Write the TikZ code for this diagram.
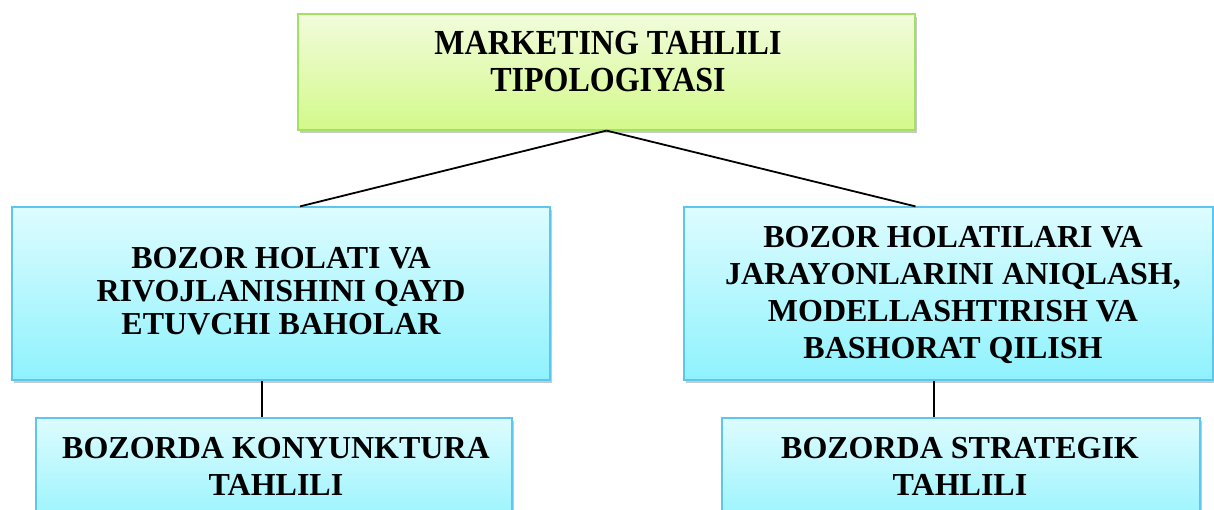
\documentclass[tikz,border=0pt]{standalone}
\usepackage{fontspec}
\setmainfont{Liberation Serif}
\usetikzlibrary{shadows}
\definecolor{gtop}{HTML}{F2FCDC}
\definecolor{gbot}{HTML}{D3F98A}
\definecolor{gbrd}{HTML}{A2E162}
\definecolor{ctop}{HTML}{DDFCFF}
\definecolor{cbot}{HTML}{8FF2FD}
\definecolor{cbrd}{HTML}{5CC6EE}
\tikzset{
  greenbox/.style={rectangle, draw=gbrd, line width=1.2pt, top color=gtop, bottom color=gbot, inner sep=0pt,
    drop shadow={shadow xshift=2pt, shadow yshift=-3pt, opacity=0.35, fill=black!60}},
  cyanbox/.style={rectangle, draw=cbrd, line width=1.2pt, top color=ctop, bottom color=cbot, inner sep=0pt,
    drop shadow={shadow xshift=2pt, shadow yshift=-3pt, opacity=0.35, fill=black!60}},
  boxtext/.style={align=center, inner sep=0pt, font=\fontsize{32}{37}\selectfont\bfseries},
  conn/.style={draw=black, line width=1.8pt}
}
\begin{document}
\begin{tikzpicture}[x=1pt,y=-1pt]
\useasboundingbox (0,0) rectangle (1214,509);
\fill[white] (0,0) rectangle (1214,509);
% boxes
\node[greenbox, minimum width=617pt, minimum height=116pt] (top) at (606.5,72) {};
\node[cyanbox, minimum width=538pt, minimum height=173pt] (lmid) at (281,293.5) {};
\node[cyanbox, minimum width=529pt, minimum height=173pt] (rmid) at (948.5,293.5) {};
\node[cyanbox, minimum width=476pt, minimum height=120pt] (lbot) at (274,478) {};
\node[cyanbox, minimum width=478pt, minimum height=120pt] (rbot) at (961,478) {};
% texts
\node[boxtext, font=\fontsize{32}{34.5}\selectfont\bfseries, yscale=1.1, transform shape] (ttop) at (608,61.5) {MARKETING TAHLILI\\TIPOLOGIYASI};
\node[boxtext, font=\fontsize{32}{33}\selectfont\bfseries] (tlmid) at (281,291.5) {BOZOR HOLATI VA\\RIVOJLANISHINI QAYD\\ETUVCHI BAHOLAR};
\node[boxtext] (trmid) at (953,295) {BOZOR HOLATILARI VA\\JARAYONLARINI ANIQLASH,\\MODELLASHTIRISH VA\\BASHORAT QILISH};
\node[boxtext] (tlbot) at (276,466) {BOZORDA KONYUNKTURA\\TAHLILI};
\node[boxtext] (trbot) at (960,466) {BOZORDA STRATEGIK\\TAHLILI};
% connectors
\draw[conn] (top.south) -- ([xshift=19pt]lmid.north);
\draw[conn] (top.south) -- ([xshift=-33pt]rmid.north);
\draw[conn] ([xshift=-19pt]lmid.south) -- ([xshift=-12pt]lbot.north);
\draw[conn] ([xshift=-14.5pt]rmid.south) -- ([xshift=-27pt]rbot.north);
\end{tikzpicture}
\end{document}
